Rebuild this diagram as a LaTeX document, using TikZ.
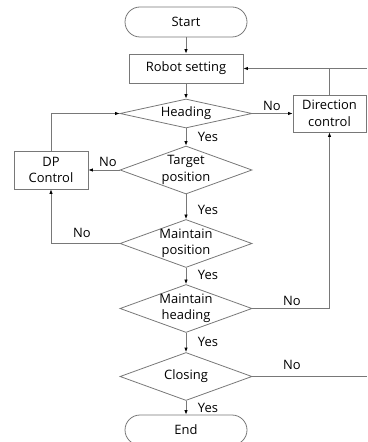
\documentclass[tikz,border=0pt]{standalone}
\usepackage{fontspec}
\setmainfont{Open Sans}
\usetikzlibrary{shapes.geometric,arrows.meta}
\definecolor{linecol}{RGB}{120,120,120}
\newcommand\dtext[1]{\makebox[0pt]{\raisebox{-5bp}{\smash{\begin{tabular}{@{}c@{}}#1\end{tabular}}}}}
\tikzset{
  base/.style={draw=linecol, line width=0.8bp, font=\fontsize{13}{16.5}\selectfont, inner sep=0pt, align=center},
  term/.style={base, rectangle, rounded corners=15bp, minimum width=122bp, minimum height=30bp},
  proc/.style={base, rectangle},
  dec/.style={base, diamond, minimum width=132bp, minimum height=48bp},
  conn/.style={draw=linecol, line width=0.8bp, -{Latex[length=4.5bp,width=3.5bp,color=black]}},
  plain/.style={draw=linecol, line width=0.8bp},
  lab/.style={font=\fontsize{13}{16}\selectfont, inner sep=0pt}
}
\begin{document}
\begin{tikzpicture}[x=1bp,y=-1bp]
\useasboundingbox (0,0) rectangle (367,442);
\clip (0,0) rectangle (367,442);
\node[term] (start) at (186,22) {Start};
\node[proc, minimum width=114bp, minimum height=29bp] (robot) at (186,68.5) {Robot setting};
\node[dec, minimum height=29bp] (heading) at (186,113.5) {\dtext{Heading}};
\node[proc, minimum width=73bp, minimum height=37bp] (dir) at (329.5,113.5) {Direction\\control};
\node[dec] (target) at (186,170) {\dtext{Target\\position}};
\node[proc, minimum width=74bp, minimum height=38bp] (dp) at (51,170) {DP\\Control};
\node[dec] (mpos) at (186,243.5) {\dtext{Maintain\\position}};
\node[dec] (mhead) at (186,308.5) {\dtext{Maintain\\heading}};
\node[dec] (closing) at (186,376.5) {\dtext{Closing}};
\node[term] (end) at (186,430) {End};
\coordinate (fb) at (367,68.5);
\coordinate (exitc) at (367,376.5);

\draw[conn] (start) -- (robot);
\draw[conn] (robot) -- (heading);
\draw[conn] (heading.east) -- (heading.east -| dir.west);
\draw[conn] (heading) -- (target);
\draw[conn] (target.west) -- (dp.east);
\draw[conn] (dp.north) |- (heading.west);
\draw[conn] (target) -- (mpos);
\draw[conn] (mpos.west) -| (dp.south);
\draw[conn] (mpos) -- (mhead);
\draw[conn] (mhead.east) -| (dir.south);
\draw[conn] (mhead) -- (closing);
\draw[plain] (closing.east) -- (exitc);
\draw[conn] (closing) -- (end);
\draw[conn] (fb) -- (robot.east);
\draw[plain] (dir.north) -- (dir.north |- robot.east);

\node[lab] (l1) at (272,106) {No};
\node[lab] (l2) at (208,137) {Yes};
\node[lab] (l3) at (108,162) {No};
\node[lab] (l4) at (208,210) {Yes};
\node[lab] (l5) at (82,233) {No};
\node[lab] (l6) at (208,275) {Yes};
\node[lab] (l7) at (292,301) {No};
\node[lab] (l8) at (208,342) {Yes};
\node[lab] (l9) at (292,365) {No};
\node[lab] (l10) at (208,408) {Yes};
\end{tikzpicture}
\end{document}
